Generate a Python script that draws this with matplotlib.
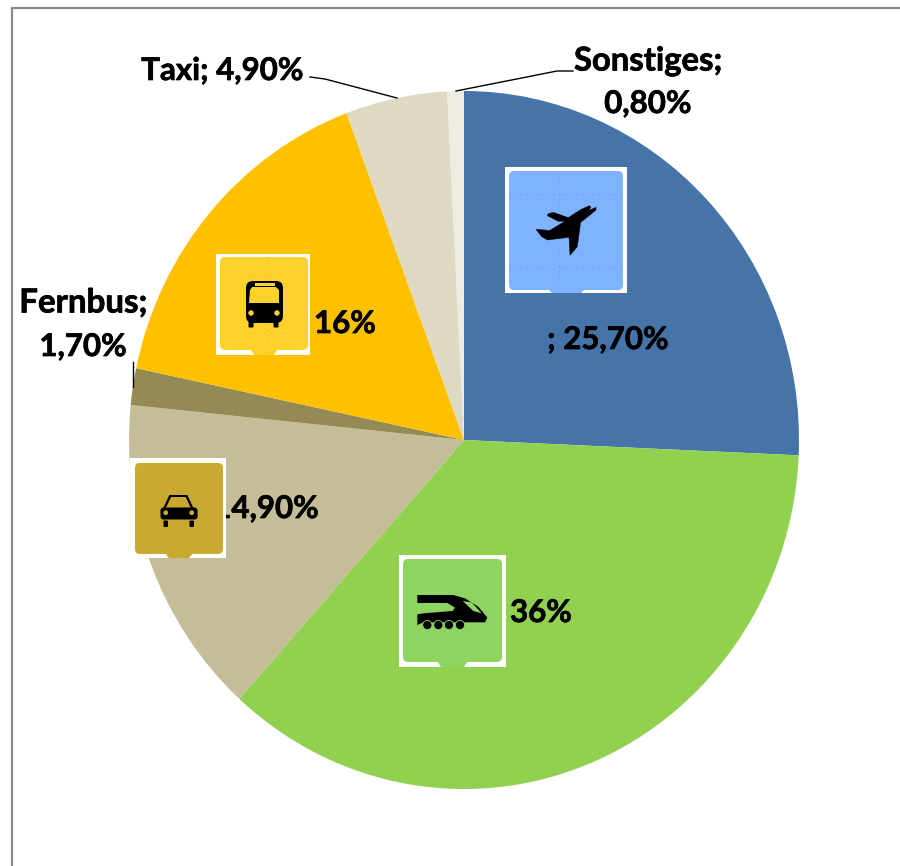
import matplotlib
matplotlib.use("Agg")
import matplotlib.pyplot as plt
import matplotlib.patheffects as pe
from matplotlib.patches import Circle, FancyBboxPatch, Polygon, Rectangle

plt.rcParams['font.family'] = ['Lato', 'DejaVu Sans']

labels = ["Flugzeug", "Bahn", "Pkw", "Fernbus", "Bus", "Taxi", "Sonstiges"]
values = [25.7, 36.0, 14.9, 1.7, 16.0, 4.9, 0.8]
colors = ["#4674A9", "#92D050", "#C4BD97", "#948A54", "#FFC000", "#DDD9C3", "#EEECE1"]

W, H = 900, 866
fig = plt.figure(figsize=(W / 100, H / 100), dpi=100)

# pie is slightly stretched in the original, so aspect stays auto
pie_ax = fig.add_axes([129 / W, 1 - 789 / H, 670 / W, 698 / H])
pie_ax.pie(values, colors=colors, startangle=90, counterclock=False, radius=1)
pie_ax.set_aspect('auto')
pie_ax.set_xlim(-1, 1)
pie_ax.set_ylim(-1, 1)
pie_ax.axis('off')

# overlay in pixel coordinates for frame, labels and icons
ax = fig.add_axes([0, 0, 1, 1])
ax.set_xlim(0, W)
ax.set_ylim(H, 0)
ax.axis('off')
ax.patch.set_alpha(0)

ax.plot([11.5, 11.5, 900], [866, 8, 8], color="#8C8C8C", lw=1.6, solid_joinstyle='miter')

# leader lines
ax.plot([310, 325, 397], [77, 79, 98], color="black", lw=1)
ax.plot([573, 557, 456], [71, 71, 91], color="black", lw=1)
ax.plot([133, 133], [362, 387], color="black", lw=1)

fs = 22.5
def label(x, y, s, ha='left', z=3, size=fs):
    t = ax.text(x, y, s, ha=ha, va='center', fontsize=size, fontweight='bold', color="black", zorder=z)
    t.set_path_effects([pe.withStroke(linewidth=0.5, foreground="black")])

label(304, 71, "Taxi; 4,90%", ha='right')
label(574, 61, "Sonstiges;", size=23.6)
label(648, 104, "0,80%", ha='center')
label(147, 303, "Fernbus;", ha='right', size=23.8)
label(127, 347, "1,70%", ha='right')
label(314, 324, "16%")
label(669, 340, "; 25,70%", ha='right')
label(319, 509, "; 14,90%", ha='right', z=1)
label(510, 613, "36%")


def tile(x0, x1, y0, y1, ix0, ix1, iy0, iy1, nx0, nx1, color):
    ax.add_patch(Rectangle((x0, y0), x1 - x0, y1 - y0, color="white", lw=0, zorder=4))
    ax.add_patch(FancyBboxPatch((ix0 + 4, iy0 + 4), ix1 - ix0 - 8, iy1 - iy0 - 8,
                                boxstyle="round,pad=4,rounding_size=5", fc=color, ec="none", zorder=5))
    ax.add_patch(Polygon([(nx0, iy1 - 1), (nx1, iy1 - 1), (nx1 - 4, y1), (nx0 + 4, y1)],
                         fc=color, ec="none", zorder=5))


def dotted(x0, x1, ys, xc, y0, y1, color):
    for y in ys:
        ax.plot([x0, x1], [y, y], color=color, lw=0.8, ls=(0, (1, 4)), zorder=5.5)
    ax.plot([xc, xc], [y0, y1], color=color, lw=0.8, ls=(0, (1, 4)), zorder=5.5)


def zoomed(points, ox, oy):
    return [(px / 3 + ox, py / 3 + oy) for px, py in points]


# plane
tile(505, 627, 167, 293, 509, 623, 171, 290, 548, 585, "#7FB2FF")
dotted(509, 623, [194, 268], 559, 171, 292, "#6C9BDF")
plane = [(138, 238), (165, 240), (178, 242), (208, 224), (226, 213), (205, 214), (172, 197),
         (175, 191), (190, 187), (235, 203), (270, 180), (298, 167), (303, 172), (295, 182),
         (318, 172), (318, 180), (300, 195), (272, 217), (262, 290), (240, 316), (237, 262),
         (172, 270), (155, 260)]
ax.add_patch(Polygon(zoomed(plane, 490, 150), fc="black", ec="black", lw=0.3, zorder=6))

# bus
tile(216, 310, 254, 355, 220, 308, 257, 350, 250, 278, "#FFD22B")
dotted(220, 308, [276, 333], 268, 257, 354, "#D9B84A")
ax.add_patch(FancyBboxPatch((252, 287), 25, 30, boxstyle="round,pad=6,rounding_size=7",
                            fc="black", ec="none", zorder=6))
ax.add_patch(Polygon([(250, 290), (252, 287), (276, 287), (279, 290), (279, 303), (249, 303)],
                     fc="#FFD22B", ec="none", zorder=7))
ax.add_patch(Rectangle((255, 283), 20, 2.5, fc="#FFD22B", ec="none", zorder=7))
for bx in (251, 277):
    ax.add_patch(Circle((bx, 313), 2.7, fc="#FFD22B", ec="none", zorder=7))
for bx in (249, 274):
    ax.add_patch(FancyBboxPatch((bx, 322), 4, 5, boxstyle="round,pad=0.5,rounding_size=1",
                                fc="black", ec="none", zorder=6))

# car
tile(130, 226, 458, 558, 135, 223, 463, 554, 165, 193, "#C9A92F")
ax.add_patch(Polygon(zoomed([(148, 765), (202, 765), (222, 808), (128, 808)], 120, 240),
                     fc="black", ec="none", zorder=6))
ax.add_patch(Polygon(zoomed([(153, 771), (197, 771), (213, 805), (137, 805)], 120, 240),
                     fc="#C9A92F", ec="none", zorder=7))
ax.add_patch(FancyBboxPatch((163, 510), 32, 7, boxstyle="round,pad=2.5,rounding_size=3",
                            fc="black", ec="none", zorder=7))
for bx in (165.7, 191.7):
    ax.add_patch(Circle((bx, 512.7), 2.4, fc="#C9A92F", ec="none", zorder=8))
for bx in (163.5, 189.5):
    ax.add_patch(FancyBboxPatch((bx + 0.5, 521), 3.5, 5.5, boxstyle="round,pad=0.5,rounding_size=1",
                                fc="black", ec="none", zorder=6))

# train
tile(399, 506, 555, 667, 403, 502, 559, 662, 437, 468, "#8DD560")
train = [(82, 150), (190, 150), (225, 160), (265, 185), (292, 218), (285, 232), (100, 232),
         (82, 240), (82, 208), (100, 205), (188, 198), (195, 188), (172, 174), (82, 174)]
ax.add_patch(Polygon(zoomed(train, 390, 545), fc="black", ec="none", zorder=6))
window = [(218, 168), (245, 172), (275, 205), (250, 198)]
ax.add_patch(Polygon(zoomed(window, 390, 545), fc="#8DD560", ec="none", zorder=7))
for wx in (112, 145, 177, 210):
    ax.add_patch(Circle((wx / 3 + 390, 240 / 3 + 545), 4.6, fc="black", ec="#8DD560", lw=0.6, zorder=7))

fig.savefig("out.png", dpi=100)
